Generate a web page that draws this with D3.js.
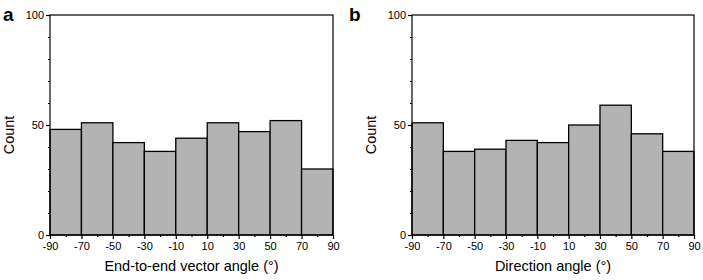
<!DOCTYPE html>
<html>
<head>
<meta charset="utf-8">
<script src="https://cdn.jsdelivr.net/npm/d3@7"></script>
<style>
  body { margin: 0; background: #fff; }
  text { font-family: "Liberation Sans", Arial, sans-serif; fill: #000; }
</style>
</head>
<body>
<div id="chart"></div>
<script>
// Bin edges (degrees) and counts
const binEdges = [-90, -70, -50, -30, -10, 10, 30, 50, 70, 90];
const countsA = [48, 51, 42, 38, 44, 51, 47, 52, 30];
const countsB = [51, 38, 39, 43, 42, 50, 59, 46, 38];
const yTicks = [0, 50, 100];
const panelLetters = ["a", "b"];
const xTitles = ["End-to-end vector angle (°)", "Direction angle (°)"];

const width = 703, height = 280;
const svg = d3.select("#chart").append("svg")
    .attr("width", width)
    .attr("height", height);

// Plot rectangles for each panel
const panels = [
    {left: 50, right: 333, top: 15, bottom: 235, letterX: 3, counts: countsA},
    {left: 412, right: 694, top: 15, bottom: 235, letterX: 349, counts: countsB}
];

panels.forEach(function(p, i){
    let g = svg.append("g");

    let x = d3.scaleLinear().domain([-90, 90]).range([p.left, p.right]);
    let y = d3.scaleLinear().domain([0, 100]).range([p.bottom, p.top]);

    // Histogram bars
    let bins = p.counts.map((c, k) => ({x0: binEdges[k], x1: binEdges[k + 1], count: c}));
    g.selectAll("rect.bar").data(bins).enter()
        .append("rect")
        .attr("class", "bar")
        .attr("x", d => x(d.x0))
        .attr("y", d => y(d.count))
        .attr("width", d => x(d.x1) - x(d.x0))
        .attr("height", d => y(0) - y(d.count))
        .attr("fill", "#b3b3b3")
        .attr("stroke", "#000")
        .attr("stroke-width", 1.3);

    // Frame
    g.append("rect")
        .attr("x", p.left).attr("y", p.top)
        .attr("width", p.right - p.left).attr("height", p.bottom - p.top)
        .attr("fill", "none").attr("stroke", "#000").attr("stroke-width", 1.2);

    // x axis: major ticks labelled, minor in between (plain hyphen minus)
    let xAxis = d3.axisBottom(x).tickValues(binEdges).tickSize(4).tickPadding(3)
        .tickFormat(d => String(d));
    let xg = g.append("g").attr("transform", `translate(0,${p.bottom})`).call(xAxis);
    let xMinor = d3.axisBottom(x).tickValues(binEdges.slice(0, -1).map(v => v + 10))
        .tickSize(2).tickFormat("");
    let xmg = g.append("g").attr("transform", `translate(0,${p.bottom})`).call(xMinor);

    // y axis
    let yAxis = d3.axisLeft(y).tickValues(yTicks).tickSize(4).tickPadding(2);
    let yg = g.append("g").attr("transform", `translate(${p.left},0)`).call(yAxis);
    let yMinor = d3.axisLeft(y).tickValues(d3.range(10, 100, 10).filter(v => v !== 50))
        .tickSize(2).tickFormat("");
    let ymg = g.append("g").attr("transform", `translate(${p.left},0)`).call(yMinor);

    [xg, xmg, yg, ymg].forEach(a => {
        a.select(".domain").remove();
        a.selectAll("line").attr("stroke", "#000").attr("stroke-width", 1.2);
        a.selectAll("text").style("font-size", "11px").attr("fill", "#000")
            .style("font-family", '"Liberation Sans", Arial, sans-serif');
    });

    // Axis titles
    g.append("text")
        .attr("x", (p.left + p.right) / 2)
        .attr("y", 271)
        .attr("text-anchor", "middle")
        .style("font-size", "14.5px")
        .text(xTitles[i]);

    g.append("text")
        .attr("transform", `translate(${p.left - 36},${(p.top + p.bottom) / 2 + 10})rotate(-90)`)
        .attr("text-anchor", "middle")
        .style("font-size", "14.5px")
        .text("Count");

    // Panel letter
    g.append("text")
        .attr("x", p.letterX)
        .attr("y", 21)
        .style("font-size", "19px")
        .style("font-weight", "bold")
        .text(panelLetters[i]);
});
</script>
</body>
</html>
